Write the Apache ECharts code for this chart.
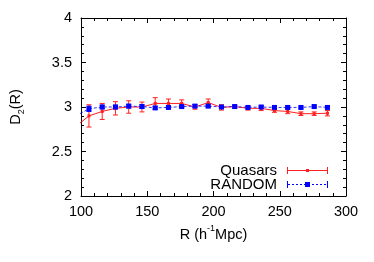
<!DOCTYPE html>
<html>
<head>
<meta charset="utf-8">
<script src="https://cdn.jsdelivr.net/npm/echarts@6/dist/echarts.min.js"></script>
<style>
  html, body { margin: 0; padding: 0; background: #fff; }
  #chart { width: 374px; height: 262px; }
</style>
</head>
<body>
<div id="chart"></div>
<script>
// R bins (h^-1 Mpc); the first one sits left of the axis and is clipped
var radius = [96, 106, 116, 126, 136, 146, 156, 166, 176, 186, 196, 206, 216, 226, 236, 246, 256, 266, 276, 286];

var quasarD2  = [2.78, 2.90, 2.95, 2.985, 3.00, 3.00, 3.04, 3.04, 3.04, 3.00, 3.05, 2.995, 3.005, 2.985, 2.985, 2.96, 2.95, 2.925, 2.925, 2.93];
var quasarErr = [0.13, 0.125, 0.09, 0.075, 0.07, 0.055, 0.065, 0.05, 0.04, 0.025, 0.04, 0.03, 0.015, 0.02, 0.025, 0.02, 0.025, 0.02, 0.02, 0.03];

var randomD2  = [2.90, 2.98, 3.00, 3.00, 3.01, 3.005, 2.99, 2.995, 3.005, 3.01, 3.01, 3.00, 3.005, 2.995, 3.00, 2.995, 2.995, 2.995, 3.005, 2.995];
var randomErr = [0.04, 0.03, 0.02, 0.02, 0.02, 0.02, 0.015, 0.015, 0.015, 0.015, 0.015, 0.015, 0.015, 0.015, 0.015, 0.015, 0.015, 0.015, 0.015, 0.015];

var xTicks = [100, 150, 200, 250, 300];
var yTicks = [2, 2.5, 3, 3.5, 4];

function pairs(ys) {
  return radius.map(function (r, i) { return [r, ys[i]]; });
}
function bars(ys, errs) {
  return radius.map(function (r, i) { return [r, ys[i] - errs[i], ys[i] + errs[i]]; });
}

function errorBar(color, cap) {
  return function (params, api) {
    var top = api.coord([api.value(0), api.value(2)]);
    var bot = api.coord([api.value(0), api.value(1)]);
    var st = { stroke: color, lineWidth: 1 };
    return {
      type: 'group',
      children: [
        { type: 'line', shape: { x1: top[0], y1: top[1], x2: bot[0], y2: bot[1] }, style: st },
        { type: 'line', shape: { x1: top[0] - cap, y1: top[1], x2: top[0] + cap, y2: top[1] }, style: st },
        { type: 'line', shape: { x1: bot[0] - cap, y1: bot[1], x2: bot[0] + cap, y2: bot[1] }, style: st }
      ]
    };
  };
}

// legend keys: line with end caps and a marker in the middle
var redKey = 'path://M0,3h41v1h-41z M0,0h1v7h-1z M40,0h1v7h-1z M19,2h3v3h-3z';
var blueKey = 'path://M0,0h1v7h-1z M40,0h1v7h-1z M18,1h5v5h-5z';
for (var d = 1; d < 40; d += 4) blueKey += ' M' + d + ',3h2v1h-2z';

var font = 'Liberation Sans, Arial, Helvetica, sans-serif';
var red = '#ff2020';
var blue = '#0000ff';

function axisBase() {
  return {
    axisLine: { show: true, onZero: false, lineStyle: { color: '#000', width: 1 } },
    axisTick: { show: true, inside: true, length: 5, lineStyle: { color: '#000' } },
    minorTick: { show: true, splitNumber: 5, length: 3, lineStyle: { color: '#000' } },
    splitLine: { show: false },
    axisLabel: { color: '#000', fontSize: 14.5, fontFamily: font }
  };
}

var xMain = Object.assign(axisBase(), {
  type: 'value', min: xTicks[0], max: xTicks[xTicks.length - 1], interval: 50, position: 'bottom',
  name: '{n|R (h}{s|-1}{n|Mpc)}', nameLocation: 'middle', nameGap: 28,
  nameTextStyle: {
    rich: {
      n: { fontSize: 14.5, fontFamily: font, color: '#000', lineHeight: 18, verticalAlign: 'bottom' },
      s: { fontSize: 9, fontFamily: font, color: '#000', lineHeight: 18, verticalAlign: 'top' }
    }
  }
});
xMain.axisLabel.margin = 8;
var xTop = Object.assign(axisBase(), {
  type: 'value', min: xTicks[0], max: xTicks[xTicks.length - 1], interval: 50, position: 'top'
});
xTop.axisLabel = { show: false };

var yMain = Object.assign(axisBase(), {
  type: 'value', min: yTicks[0], max: yTicks[yTicks.length - 1], interval: 0.5, position: 'left',
  name: '{n|D}{s|2}{n|(R)}', nameLocation: 'middle', nameGap: 55, nameRotate: 90,
  nameTextStyle: {
    rich: {
      n: { fontSize: 14.5, fontFamily: font, color: '#000', lineHeight: 18, verticalAlign: 'top' },
      s: { fontSize: 9, fontFamily: font, color: '#000', lineHeight: 18, verticalAlign: 'bottom' }
    }
  }
});
yMain.axisLabel.margin = 9;
yMain.axisLabel.formatter = function (v) { return String(v); };
var yRight = Object.assign(axisBase(), {
  type: 'value', min: yTicks[0], max: yTicks[yTicks.length - 1], interval: 0.5, position: 'right'
});
yRight.axisLabel = { show: false };

function legendRow(name, icon, color, top) {
  return {
    right: 46, top: top, padding: 0, align: 'right',
    itemWidth: 41, itemHeight: 7,
    textStyle: { fontSize: 15, fontFamily: font, color: '#000', padding: [0, 5, 0, 0] },
    data: [{
      name: name, icon: icon,
      itemStyle: { color: color, borderWidth: 0 },
      lineStyle: { width: 0 }
    }]
  };
}

var chart = echarts.init(document.getElementById('chart'), null, { renderer: 'canvas' });

chart.setOption({
  animation: false,
  backgroundColor: '#fff',
  grid: { left: 77, right: 28, top: 18, bottom: 66, containLabel: false },
  xAxis: [xMain, xTop],
  yAxis: [yMain, yRight],
  legend: [
    legendRow('Quasars', redKey, red, 163),
    legendRow('RANDOM', blueKey, blue, 177)
  ],
  series: [
    {
      name: 'Quasars', type: 'line', data: pairs(quasarD2), clip: true,
      color: red, symbol: 'rect', symbolSize: 3,
      lineStyle: { color: red, width: 1 }, itemStyle: { color: red }
    },
    {
      name: 'Quasars err', type: 'custom', data: bars(quasarD2, quasarErr), clip: true,
      renderItem: errorBar(red, 2.5), encode: { x: 0, y: [1, 2] }, z: 2
    },
    {
      name: 'RANDOM err', type: 'custom', data: bars(randomD2, randomErr), clip: true,
      renderItem: errorBar(blue, 2.5), encode: { x: 0, y: [1, 2] }, z: 3
    },
    {
      name: 'RANDOM', type: 'line', data: pairs(randomD2), clip: true, z: 4,
      color: blue, symbol: 'rect', symbolSize: 5,
      lineStyle: { color: blue, width: 1, type: [3, 2], opacity: 0.8 }, itemStyle: { color: blue }
    }
  ]
});
</script>
</body>
</html>
